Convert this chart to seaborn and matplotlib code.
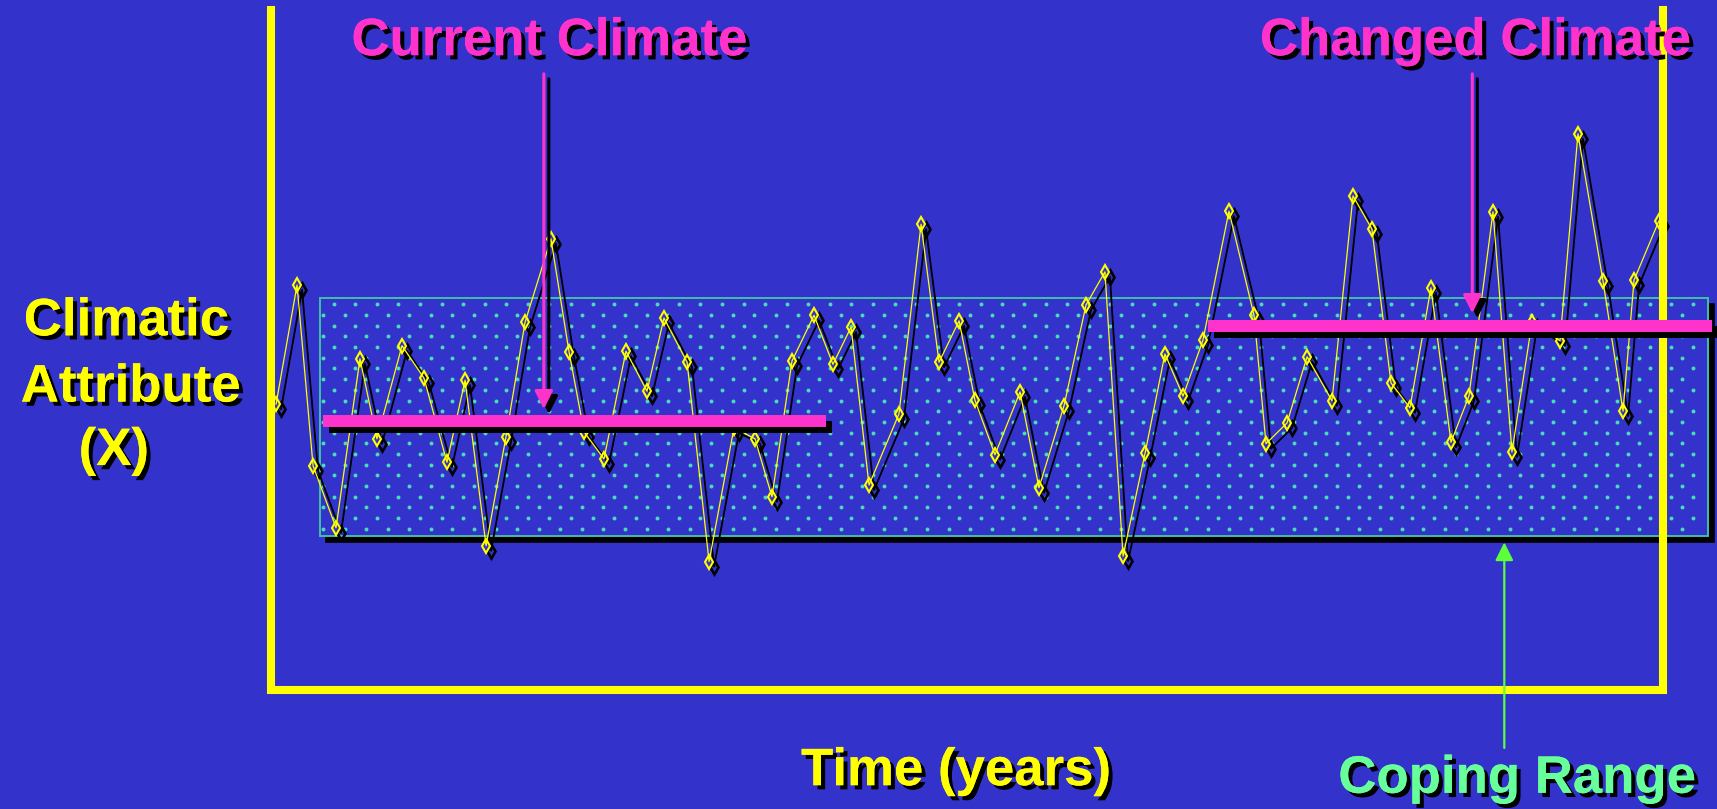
import numpy as np
import matplotlib
matplotlib.use("Agg")
import matplotlib.pyplot as plt
import matplotlib.patheffects as pe
import matplotlib.transforms as mtransforms
from matplotlib.patches import Rectangle, FancyArrowPatch
import seaborn as sns

# ---------------- data ----------------
years = [0.36, 1.87, 3.02, 4.67, 6.39, 7.61, 9.41, 10.99, 12.64, 13.94,
         15.45, 16.88, 18.25, 20.11, 21.41, 22.49, 23.92, 25.50, 27.01, 28.23,
         29.89, 31.47, 33.26, 34.77, 35.99, 37.43, 39.01, 40.37, 41.67, 42.96,
         45.11, 46.70, 47.99, 49.43, 50.57, 52.01, 53.81, 55.17, 56.97, 58.55,
         59.91, 61.21, 62.79, 64.22, 65.52, 66.95, 68.82, 70.62, 71.48, 72.99,
         74.43, 76.22, 77.73, 79.09, 80.46, 81.82, 83.33, 84.77, 86.06, 87.79,
         89.15, 90.59, 92.60, 93.89, 95.69, 97.13, 97.92, 99.71]
attribute = [41.4, 58.7, 32.5, 23.5, 48.0, 36.4, 49.9, 45.2, 33.0, 44.9,
             20.9, 36.7, 53.3, 65.4, 49.0, 37.4, 33.5, 49.1, 43.3, 53.9,
             47.5, 18.6, 38.0, 36.4, 28.0, 47.7, 54.3, 47.2, 52.6, 29.7,
             40.0, 67.5, 47.5, 53.5, 42.0, 34.1, 43.2, 29.3, 41.2, 55.8,
             60.6, 19.4, 34.3, 48.7, 42.6, 50.7, 69.4, 54.3, 35.7, 38.7,
             48.3, 41.9, 71.6, 66.8, 44.5, 40.9, 58.3, 35.9, 42.6, 69.3,
             34.5, 53.3, 50.6, 80.6, 59.3, 40.4, 59.4, 68.0]

coping_range = [22.3, 56.8]          # low / high of coping range
coping_years = [3.5, 103.2]          # extent of coping range box
current_mean = 39.0
current_years = [3.7, 39.9]
changed_mean = 52.7
changed_years = [67.3, 103.5]

title_current = "Current Climate"
title_changed = "Changed Climate"
ylabel_lines = ["Climatic", "Attribute", "(X)"]
xlabel = "Time (years)"
coping_label = "Coping Range"

# ---------------- style ----------------
BG = "#3333cc"
YELLOW = "#ffff00"
MAGENTA = "#ff33cc"
TEAL = "#3fc0a8"
DOT = "#48dcb8"
GREEN_TXT = "#66ff99"
GREEN_ARR = "#5cff3c"

sns.set_theme(style="white")
plt.rcParams["font.family"] = ["Liberation Sans", "DejaVu Sans"]

fig = plt.figure(figsize=(17.17, 8.09), dpi=100, facecolor=BG)
ax = fig.add_axes([0, 0, 1, 1])
ax.set_facecolor(BG)


def shadow(dx, dy):
    return mtransforms.offset_copy(ax.transData, fig=fig, x=dx, y=dy, units="dots")


# coping range box with shadow and dot texture
w = coping_years[1] - coping_years[0]
h = coping_range[1] - coping_range[0]
ax.add_patch(Rectangle((coping_years[0], coping_range[0]), w, h, facecolor="black",
                       edgecolor="black", lw=1.2, transform=shadow(6, -6), zorder=1))
ax.add_patch(Rectangle((coping_years[0], coping_range[0]), w, h, facecolor=BG,
                       edgecolor=TEAL, lw=1.4, zorder=2))
step = 1.55
rows = np.arange(coping_range[1] - 0.9, coping_range[0] + 0.3, -step)
dx_list, dy_list = [], []
for i, r in enumerate(rows):
    start = coping_years[0] + (1.0 if i % 2 == 0 else 0.23)
    cols = np.arange(start, coping_years[1] - 0.3, step)
    dx_list.extend(cols)
    dy_list.extend([r] * len(cols))
ax.scatter(dx_list, dy_list, s=8, color=DOT, linewidths=0, zorder=2.5)

# series shadow and series
sh = shadow(5, -5)
ax.plot(years, attribute, color="black", lw=1.3, marker="d", markersize=7.5,
        markerfacecolor="none", markeredgecolor="black", markeredgewidth=1.9,
        transform=sh, zorder=3)
sns.lineplot(x=years, y=attribute, ax=ax, sort=False, estimator=None,
             color=YELLOW, lw=0.9, marker="d", markersize=7.5,
             markerfacecolor="none", markeredgecolor=YELLOW, markeredgewidth=1.5,
             zorder=4)

# frame (yellow axes)
ax.plot([0, 0, 100, 100], [99.1, 0, 0, 99.1], color=YELLOW, lw=5.8,
        solid_joinstyle="miter", solid_capstyle="butt", zorder=5)

# mean bars
for span, m in [(current_years, current_mean), (changed_years, changed_mean)]:
    ax.plot(span, [m, m], color="black", lw=8.6, solid_capstyle="butt",
            transform=shadow(6, -6), zorder=6)
    ax.plot(span, [m, m], color=MAGENTA, lw=8.6, solid_capstyle="butt", zorder=7)

# arrows
arrow_style = "-|>,head_length=1.1,head_width=0.55"
for xa, ytip in [(19.6, 40.7), (86.3, 54.6)]:
    ax.add_patch(FancyArrowPatch((xa, 89.3), (xa, ytip), arrowstyle=arrow_style,
                                 mutation_scale=10, lw=2.2, color="black",
                                 shrinkA=0, shrinkB=0, transform=shadow(5, -5), zorder=8))
    ax.add_patch(FancyArrowPatch((xa, 89.3), (xa, ytip), arrowstyle=arrow_style,
                                 mutation_scale=10, lw=2.2, color=MAGENTA,
                                 shrinkA=0, shrinkB=0, zorder=9))
ax.add_patch(FancyArrowPatch((88.6, -8.4), (88.6, 21.4), arrowstyle=arrow_style,
                             mutation_scale=10, lw=1.6, color=GREEN_ARR,
                             shrinkA=0, shrinkB=0, zorder=9))

# texts
fx = [pe.withSimplePatchShadow(offset=(3, -3), shadow_rgbFace="black", alpha=1.0),
      pe.Normal()]
tkw = dict(fontsize=38, fontweight="bold", ha="center", va="baseline",
           path_effects=fx, zorder=10)
ax.text(19.97, 92.0, title_current, color=MAGENTA, **tkw)
ax.text(86.5, 92.0, title_changed, color=MAGENTA, **tkw)
for (tx, ty), line in zip([(-10.4, 51.4), (-10.1, 41.8), (-11.3, 32.6)], ylabel_lines):
    ax.text(tx, ty, line, color=YELLOW, **tkw)
ax.text(49.2, -13.8, xlabel, color=YELLOW, **tkw)
ax.text(89.5, -14.9, coping_label, color=GREEN_TXT, **tkw)

ax.set_xlim(-19.47, 103.88)
ax.set_ylim(-17.25, 100)
ax.axis("off")

fig.savefig("out.png", dpi=100, facecolor=BG)
